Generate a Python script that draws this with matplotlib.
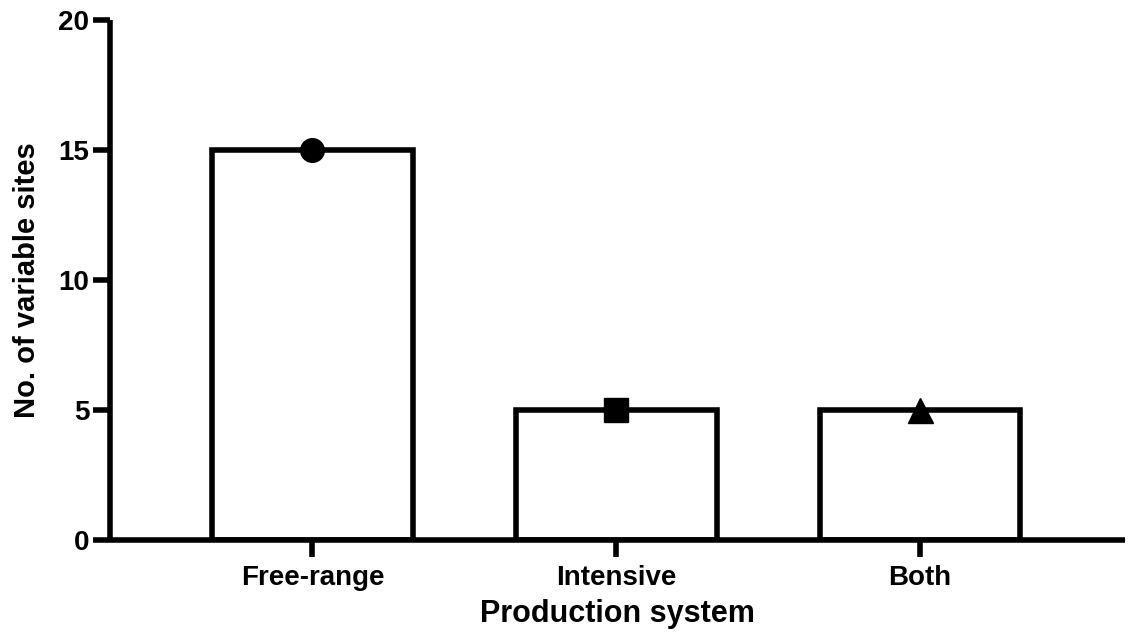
import matplotlib
matplotlib.use("Agg")
import matplotlib.pyplot as plt

categories = ["Free-range", "Intensive", "Both"]
values = [15, 5, 5]
markers = ["o", "s", "^"]
yticks = [0, 5, 10, 15, 20]

plt.rcParams['font.family'] = ['Liberation Sans', 'DejaVu Sans']
plt.rcParams['font.weight'] = 'bold'

W, H = 1128, 642
fig = plt.figure(figsize=(W/100, H/100), dpi=100)
ax = fig.add_axes([110/W, (H-540)/H, (1125-110)/W, (540-20)/H])

lw = 4.0
x = list(range(len(categories)))
ax.bar(x, values, width=0.66, facecolor='white', edgecolor='black', linewidth=lw, zorder=2)
for xi, v, m in zip(x, values, markers):
    ax.plot([xi], [v], marker=m, color='black', markersize=17 if m != '^' else 18, zorder=3, clip_on=False)

ax.set_xlim(-0.666, 2.674)
ax.set_ylim(0, 20)
ax.set_yticks(yticks)
ax.set_xticks(x)
ax.set_xticklabels(categories)

for s in ['top', 'right']:
    ax.spines[s].set_visible(False)
for s in ['left', 'bottom']:
    ax.spines[s].set_linewidth(lw)
    ax.spines[s].set_capstyle('butt')

ax.tick_params(axis='both', width=lw, length=12, labelsize=20, color='black')
ax.tick_params(axis='y', pad=3)
ax.tick_params(axis='x', pad=6)
for lab in ax.get_xticklabels() + ax.get_yticklabels():
    lab.set_fontweight('bold')

ax.set_ylabel("No. of variable sites", fontsize=21, fontweight='bold', labelpad=12)
ax.set_xlabel("Production system", fontsize=22, fontweight='bold', labelpad=6)

fig.savefig("out.png", dpi=100)
